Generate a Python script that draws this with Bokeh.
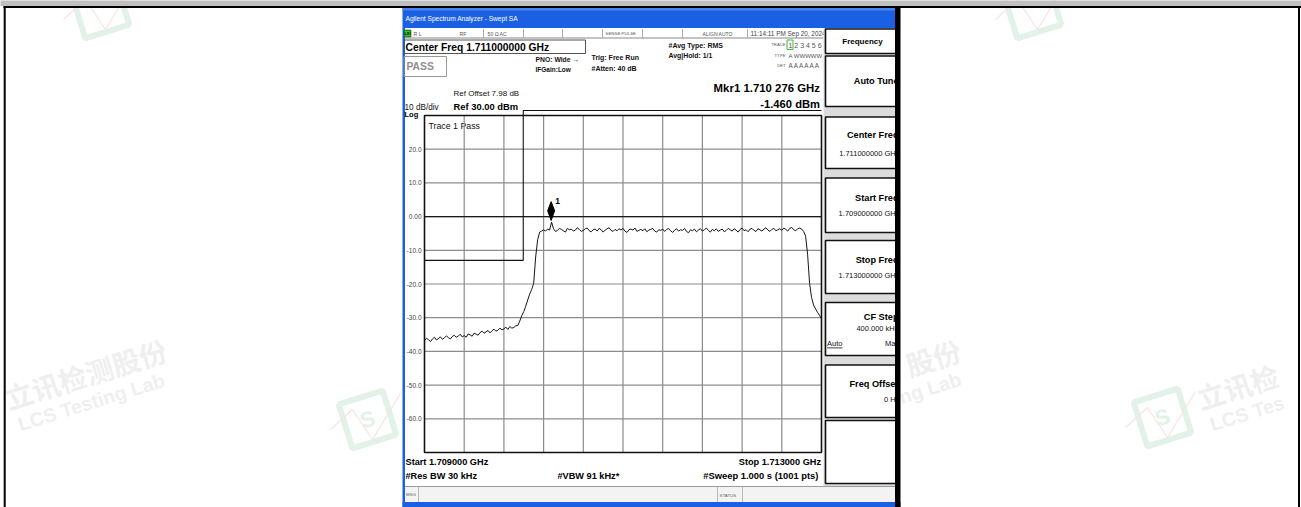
import numpy as np
from bokeh.plotting import figure
from bokeh.models import Range1d
from bokeh.core.properties import value
from bokeh.embed import file_html
from bokeh.resources import INLINE

START_GHZ = 1.709
STOP_GHZ = 1.713
REF_LEVEL = 30.0
BOTTOM_LEVEL = -70.0

# trace 1 (dBm), sampled every 20 kHz from Start to Stop
trace_dbm = [
    -36.8, -36.1, -36.5, -37.1, -36.3, -35.8, -36.6, -36.2, -35.7, -36.4,
    -36.0, -35.4, -35.9, -36.3, -35.6, -35.2, -35.8, -35.5, -34.9, -35.7,
    -35.3, -35.8, -34.8, -35.1, -35.5, -34.6, -34.9, -35.2, -34.4, -34.0,
    -34.6, -34.2, -33.8, -34.5, -33.9, -33.4, -34.0, -33.7, -33.1, -33.6,
    -33.3, -32.8, -33.5, -32.6, -33.1, -32.9, -32.4, -32.3, -31.0, -29.4,
    -28.2, -26.6, -24.7, -23.0, -21.6, -19.8, -12.0, -6.9, -4.6, -4.3,
    -3.9, -4.3, -3.7, -4.0, -1.6, -3.6, -4.4, -4.1, -3.5, -3.8,
    -4.2, -4.6, -3.5, -3.9, -3.7, -4.3, -4.0, -3.3, -3.8, -4.4,
    -4.1, -3.6, -3.4, -4.2, -4.5, -3.9, -3.7, -4.3, -3.5, -3.9,
    -4.6, -4.0, -3.6, -3.3, -4.1, -4.4, -3.8, -4.2, -3.6, -4.0,
    -3.5, -4.3, -4.7, -3.9, -3.7, -4.0, -3.4, -4.4, -4.1, -3.8,
    -4.2, -3.6, -4.5, -4.0, -3.8, -3.5, -4.3, -4.6, -3.9, -4.1,
    -3.7, -4.4, -3.8, -3.5, -4.2, -4.7, -4.0, -3.6, -4.3, -3.9,
    -4.1, -3.5, -4.4, -4.8, -3.9, -4.2, -3.7, -4.5, -4.0, -3.6,
    -4.3, -3.9, -3.4, -4.1, -4.6, -3.8, -4.2, -3.6, -4.4, -4.0,
    -3.7, -4.5, -4.1, -3.5, -3.9, -4.3, -3.6, -4.0, -4.6, -3.8,
    -3.4, -4.2, -3.9, -4.5, -3.7, -3.5, -4.1, -4.4, -3.6, -3.9,
    -4.3, -3.7, -3.3, -4.0, -4.4, -3.8, -3.5, -4.2, -3.9, -3.6,
    -4.1, -3.4, -3.8, -4.3, -3.5, -3.2, -3.9, -4.2, -3.6, -3.4,
    -3.7, -4.4, -5.8, -11.2, -19.8, -24.0, -26.2, -27.4, -28.4, -29.3,
    -30.3,
]
freq_ghz = np.linspace(START_GHZ, STOP_GHZ, len(trace_dbm))  # sweep grid

mkr_freq_ghz = 1.710276
mkr_dbm = -1.460

limit_freq_ghz = [1.709000, 1.709995, 1.709995, 1.713000]
limit_dbm = [-13.0, -13.0, 31.5, 31.5]

y_ticks = [20, 10, 0, -10, -20, -30, -40, -50, -60]
y_tick_labels = ["20.0", "10.0", "0.00", "-10.0", "-20.0", "-30.0", "-40.0", "-50.0", "-60.0"]
x_divisions = 10

# ---------------- layout ----------------
W, H = 1301, 507
GL, GR, GT, GB = 424, 821, 115, 452      # graticule edges on the page (px)
FONT = "Liberation Sans"
CJK = "Noto Sans CJK SC"

px_per_ghz = (GR - GL) / (STOP_GHZ - START_GHZ)
px_per_db = (GB - GT) / (REF_LEVEL - BOTTOM_LEVEL)
x_range = Range1d(START_GHZ - GL / px_per_ghz, START_GHZ + (W - GL) / px_per_ghz)
y_range = Range1d(BOTTOM_LEVEL - (H - GB) / px_per_db, REF_LEVEL + GT / px_per_db)

p = figure(width=W, height=H, x_range=x_range, y_range=y_range,
           x_axis_type=None, y_axis_type=None,
           output_backend="svg", toolbar_location=None, min_border=0,
           outline_line_color=None,
           background_fill_color="white", border_fill_color="white")
p.xgrid.visible = False
p.ygrid.visible = False

# page-pixel coordinates for the analyzer window furniture
p.extra_x_ranges = {"px": Range1d(0, W)}
p.extra_y_ranges = {"py": Range1d(H, 0)}


def box(l, r, t, b, fill=None, line=None, lw=1.0):
    p.quad(left=[l], right=[r], top=[t], bottom=[b],
           x_range_name="px", y_range_name="py",
           fill_color=fill, line_color=line, line_width=lw)


def txt(x, y, s, size, color="#000000", bold=False, align="left",
        baseline="middle", font=FONT, angle=0.0):
    p.text(x=[x], y=[y], text=[s], x_range_name="px", y_range_name="py",
           text_font=value(font), text_font_size=f"{size}px",
           text_font_style="bold" if bold else "normal",
           text_color=color, text_align=align, text_baseline=baseline,
           angle=angle)


def pline(pts, color, lw):
    p.line([q[0] for q in pts], [q[1] for q in pts], x_range_name="px",
           y_range_name="py", line_color=color, line_width=lw)


# ---------------- watermark ----------------
WM_GRAY = "#efefef"
WM_GREEN = "#e2f2e8"
WM_RED = "#f9e2e2"
ANG = 0.30


def wm_logo(cx, cy, with_s=True):
    p.rect(x=[cx], y=[cy], width=[46], height=[46], angle=ANG,
           x_range_name="px", y_range_name="py",
           fill_color=None, line_color=WM_GREEN, line_width=6)
    if with_s:
        txt(cx, cy, "S", 22, WM_GREEN, bold=True, align="center", angle=ANG)
    pline([(cx - 37, cy + 10), (cx - 15, cy - 10), (cx + 5, cy + 20), (cx + 33, cy - 26)],
          WM_RED, 1.2)


wm_logo(367, 419)
wm_logo(1162, 417)
wm_logo(100, 9, with_s=False)
wm_logo(1032, 9, with_s=False)
txt(5, 398, "立讯检测股份", 28, WM_GRAY, bold=True, baseline="alphabetic", font=CJK, angle=ANG)
txt(18, 424, "LCS Testing Lab", 19.5, WM_GRAY, bold=True, baseline="alphabetic", angle=ANG)
txt(1197, 398, "立讯检", 28, WM_GRAY, bold=True, baseline="alphabetic", font=CJK, angle=ANG)
txt(1210, 424, "LCS Tes", 19.5, WM_GRAY, bold=True, baseline="alphabetic", angle=ANG)
txt(906, 365, "股份", 28, WM_GRAY, bold=True, baseline="alphabetic", font=CJK, angle=ANG)
txt(899, 397, "ng Lab", 19.5, WM_GRAY, bold=True, baseline="alphabetic", angle=ANG)

# ---------------- document table lines ----------------
box(-2, W + 2, -2, 5.5, fill="#c0c0c0")
box(3, W + 2, 5.5, 7.5, fill="#000000")
box(3.2, 5.2, 5.5, H + 2, fill="#000000")
box(1297.5, 1299.5, 5.5, H + 2, fill="#000000")

# ---------------- analyzer window ----------------
BLUE = "#1b5fe3"
box(402, 894.5, 7.5, 27.5, fill=BLUE)
box(402, 894.5, 7.5, 10, fill="#4a84f0")
box(402, 404.5, 27.5, H + 2, fill=BLUE)
box(402, 900, 501.5, H + 2, fill=BLUE)
txt(405, 17.5, "Agilent Spectrum Analyzer - Swept SA", 6.6, "#ffffff")

# top status row
box(404.5, 823, 37.1, 37.9, fill="#8a8a8a")
for sx in [483, 523, 562, 602, 642, 682, 747]:
    box(sx - 0.4, sx + 0.4, 28.5, 37.5, fill="#9a9a9a")
box(403.6, 410.4, 29.6, 36.4, fill="#33c133", line="#0a5a0a", lw=0.8)
txt(407, 33, "LXI", 3.8, "#000000", bold=True, align="center")
txt(413, 33, "R L", 5.2, "#555555")
txt(459, 33, "RF", 5.2, "#555555")
txt(487, 33, "50 Ω", 5.2, "#555555")
txt(499, 33, "AC", 5.2, "#555555")
txt(605, 33, "SENSE:PULSE", 4.4, "#555555")
txt(702, 33, "ALIGN AUTO", 5.0, "#555555")
txt(750, 33, "11:14:11 PM Sep 20, 2024", 6.4, "#444444")

# setup annotations
box(403.5, 585, 39.5, 53, line="#555555", lw=1.0)
txt(405, 46.5, "Center Freq 1.711000000 GHz", 10.3, bold=True)
box(403.5, 446, 56, 76, line="#999999", lw=1.0)
txt(406, 66, "PASS", 10.3, "#8f8f8f", bold=True)
txt(535, 58.5, "PNO: Wide →", 6.8, "#111111", bold=True)
txt(535, 69, "IFGain:Low", 6.5, "#111111", bold=True)
txt(591, 56.5, "Trig: Free Run", 7.0, "#111111", bold=True)
txt(591, 67.5, "#Atten: 40 dB", 7.0, "#111111", bold=True)
txt(668, 44.5, "#Avg Type: RMS", 7.0, "#111111", bold=True)
txt(668, 55, "Avg|Hold: 1/1", 6.9, "#111111", bold=True)
txt(785, 44, "TRACE", 4.2, "#555555", align="right")
txt(785, 55, "TYPE", 4.2, "#555555", align="right")
txt(785, 65, "DET", 4.2, "#555555", align="right")
box(786.5, 792.5, 39.5, 49, line="#3cb83c", lw=1.0)
txt(788, 44.5, "1 2 3 4 5 6", 7.0, "#555555")
txt(788, 55, "A WWWWW", 6.0, "#555555")
txt(788, 65, "A A A A A A", 6.3, "#555555")
txt(819.5, 87.5, "Mkr1 1.710 276 GHz", 11.4, bold=True, align="right")
txt(819.5, 103.5, "-1.460 dBm", 11.2, bold=True, align="right")
txt(453, 92.5, "Ref Offset 7.98 dB", 8.0, "#111111")
txt(404, 106.5, "10 dB/div", 8.2, "#111111")
txt(453, 105.5, "Ref 30.00 dBm", 9.4, bold=True)
txt(404, 114, "Log", 7.5, bold=True)
txt(428, 125, "Trace 1 Pass", 8.8, "#111111")

# bottom annotations
txt(405, 461, "Start 1.709000 GHz", 9.2, bold=True)
txt(405, 475, "#Res BW 30 kHz", 9.2, bold=True)
txt(557, 475, "#VBW 91 kHz*", 9.2, bold=True)
txt(820.5, 461, "Stop 1.713000 GHz", 9.2, bold=True, align="right")
txt(820.5, 475, "#Sweep  1.000 s (1001 pts)", 9.4, bold=True, align="right")

# soft keys
box(823, 894.5, 27.5, 486, fill="#dcdcdc")
for kt, kb in [(28.5, 53), (55.5, 106), (116.5, 168), (177.5, 232),
               (240, 293), (302, 355), (364.5, 417), (420, 483)]:
    box(825, 897, kt, kb, fill="#ffffff", line="#111111", lw=1.6)
txt(862, 41, "Frequency", 8.0, bold=True, align="center")
txt(898, 80.5, "Auto Tune", 9.2, bold=True, align="right")
txt(898, 134.5, "Center Freq", 9.2, bold=True, align="right")
txt(899, 153, "1.711000000 GHz", 7.5, "#111111", align="right")
txt(898, 197, "Start Freq", 9.2, bold=True, align="right")
txt(899, 213, "1.709000000 GHz", 7.5, "#111111", align="right")
txt(898, 259, "Stop Freq", 9.2, bold=True, align="right")
txt(899, 275, "1.713000000 GHz", 7.5, "#111111", align="right")
txt(898, 316.5, "CF Step", 9.2, bold=True, align="right")
txt(898, 328, "400.000 kHz", 7.5, "#111111", align="right")
txt(826.5, 343, "Auto", 7.5, "#111111")
box(826.5, 842, 347, 347.8, fill="#111111")
txt(899, 343, "Man", 7.5, "#111111", align="right")
txt(898, 383, "Freq Offset", 9.2, bold=True, align="right")
txt(899, 399, "0 Hz", 7.5, "#111111", align="right")

# status bar
box(404.5, 894.5, 486, 501.5, fill="#f3f3f3")
box(404.5, 894.5, 485.6, 486.4, fill="#9a9a9a")
for sx in [418, 717, 742]:
    box(sx - 0.4, sx + 0.4, 486, 501.5, fill="#aaaaaa")
txt(405.5, 494, "MSG", 4.4, "#666666")
txt(719, 495, "STATUS", 4.4, "#666666")

# right edge of the captured screen
box(894.5, 900, 7.5, H + 2, fill="#000000")

# ---------------- graticule (data coordinates) ----------------
step = (STOP_GHZ - START_GHZ) / x_divisions
x_grid = [START_GHZ + k * step for k in range(1, x_divisions)]
p.segment(x0=x_grid, y0=[BOTTOM_LEVEL] * len(x_grid), x1=x_grid, y1=[REF_LEVEL] * len(x_grid),
          line_color="#8c8c8c", line_width=1.2)
p.segment(x0=[START_GHZ] * len(y_ticks), y0=y_ticks, x1=[STOP_GHZ] * len(y_ticks), y1=y_ticks,
          line_color="#8c8c8c", line_width=1.2)
p.segment(x0=[START_GHZ], y0=[0], x1=[STOP_GHZ], y1=[0], line_color="#1a1a1a", line_width=1.2)
p.quad(left=[START_GHZ], right=[STOP_GHZ], bottom=[BOTTOM_LEVEL], top=[REF_LEVEL],
       fill_color=None, line_color="#111111", line_width=1.6)
p.text(x=[START_GHZ] * len(y_ticks), y=y_ticks, text=y_tick_labels, x_offset=-3,
       text_font=value(FONT), text_font_size="6.5px", text_color="#444444",
       text_align="right", text_baseline="middle")

# limit line
p.line(limit_freq_ghz, limit_dbm, line_color="#111111", line_width=1.1)

# trace
p.line(freq_ghz, trace_dbm, line_color="#151515", line_width=1.0)

# marker 1 (diamond sitting on the marker point)
dx = 3.5 / px_per_ghz
p.patch([mkr_freq_ghz, mkr_freq_ghz + dx, mkr_freq_ghz, mkr_freq_ghz - dx],
        [mkr_dbm + 0.3, mkr_dbm + 3.2, mkr_dbm + 5.9, mkr_dbm + 3.2],
        fill_color="black", line_color="black", line_width=1)
p.text(x=[mkr_freq_ghz + 1.2 * dx], y=[mkr_dbm + 7.0], text=["1"],
       text_font=value(FONT), text_font_size="8.5px", text_font_style="bold",
       text_color="#000000", text_baseline="top")

open("out.html", "w").write(file_html(p, INLINE))
